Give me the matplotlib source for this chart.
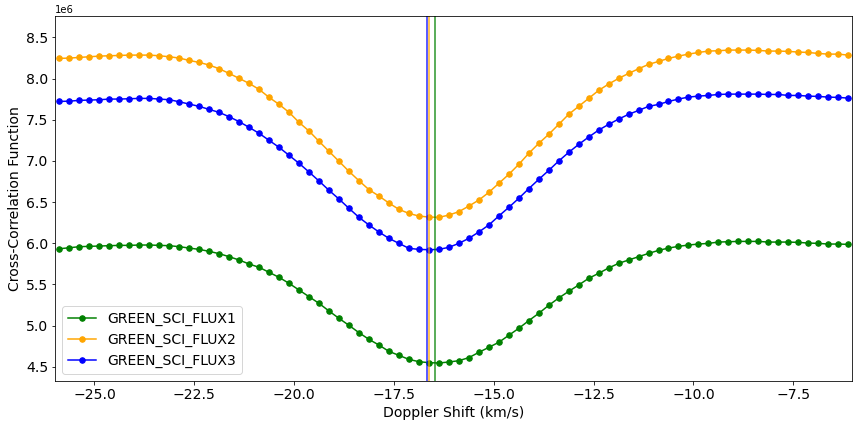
import numpy as np
from matplotlib import pyplot as plt

# Doppler shift grid (km/s), 0.25 km/s steps
velocity = np.linspace(-25.875, -6.125, 80)

# CCF values in units of 1e6
flux1 = [5.933, 5.945, 5.958, 5.962, 5.966, 5.970, 5.974, 5.974, 5.978, 5.978,
         5.974, 5.970, 5.958, 5.941, 5.925, 5.901, 5.873, 5.836, 5.796, 5.747,
         5.707, 5.646, 5.585, 5.512, 5.431, 5.350, 5.269, 5.176, 5.087, 5.002,
         4.913, 4.832, 4.763, 4.686, 4.638, 4.589, 4.561, 4.549, 4.545, 4.557,
         4.573, 4.610, 4.674, 4.735, 4.796, 4.881, 4.966, 5.059, 5.148, 5.245,
         5.334, 5.415, 5.492, 5.573, 5.634, 5.699, 5.755, 5.796, 5.836, 5.876,
         5.913, 5.941, 5.962, 5.978, 5.990, 5.998, 6.014, 6.018, 6.022, 6.022,
         6.022, 6.014, 6.014, 6.014, 6.010, 6.002, 5.998, 5.990, 5.990, 5.986]

flux2 = [8.245, 8.249, 8.257, 8.265, 8.273, 8.277, 8.281, 8.285, 8.285, 8.285,
         8.277, 8.265, 8.249, 8.220, 8.196, 8.164, 8.119, 8.062, 8.002, 7.941,
         7.868, 7.771, 7.686, 7.589, 7.467, 7.362, 7.237, 7.115, 6.994, 6.872,
         6.759, 6.650, 6.573, 6.488, 6.411, 6.362, 6.330, 6.318, 6.314, 6.342,
         6.383, 6.451, 6.524, 6.617, 6.727, 6.836, 6.957, 7.091, 7.212, 7.322,
         7.443, 7.565, 7.662, 7.759, 7.856, 7.933, 8.002, 8.062, 8.119, 8.172,
         8.208, 8.245, 8.273, 8.297, 8.317, 8.334, 8.338, 8.346, 8.346, 8.346,
         8.342, 8.334, 8.334, 8.330, 8.322, 8.317, 8.305, 8.297, 8.297, 8.285]

flux3 = [7.722, 7.726, 7.735, 7.739, 7.743, 7.751, 7.751, 7.755, 7.759, 7.759,
         7.751, 7.743, 7.718, 7.690, 7.662, 7.625, 7.589, 7.536, 7.476, 7.407,
         7.334, 7.249, 7.164, 7.067, 6.970, 6.864, 6.755, 6.642, 6.536, 6.423,
         6.314, 6.221, 6.136, 6.059, 5.998, 5.938, 5.925, 5.921, 5.925, 5.950,
         5.998, 6.059, 6.136, 6.221, 6.330, 6.435, 6.545, 6.662, 6.775, 6.884,
         6.998, 7.103, 7.200, 7.289, 7.374, 7.443, 7.508, 7.565, 7.613, 7.662,
         7.686, 7.722, 7.751, 7.775, 7.787, 7.795, 7.807, 7.811, 7.811, 7.811,
         7.811, 7.807, 7.807, 7.795, 7.795, 7.787, 7.783, 7.775, 7.771, 7.763]

labels = ['GREEN_SCI_FLUX1', 'GREEN_SCI_FLUX2', 'GREEN_SCI_FLUX3']
colors = ['green', 'orange', 'blue']

# fitted RV of each CCF (km/s)
rv_fit = [-16.48, -16.62, -16.66]

fig = plt.figure(figsize=(858 / 72, 426 / 72), dpi=72)
ax = fig.add_axes([55.3 / 858, 1 - 380.7 / 426, (852 - 55.3) / 858, (380.7 - 16) / 426])

for ys, lab, c in zip([flux1, flux2, flux3], labels, colors):
    ax.plot(velocity, np.array(ys) * 1e6, 'o-', color=c, label=lab, markersize=5.5, linewidth=1.5)

for v, c in zip(rv_fit, colors):
    ax.axvline(v, color=c, alpha=0.75, linewidth=1.7)

ax.set_xlim(-25.98, -6.03)
ax.set_ylim(4.33e6, 8.76e6)

ax.set_xlabel('Doppler Shift (km/s)', fontsize=14)
ax.set_ylabel('Cross-Correlation Function', fontsize=14)
ax.tick_params(labelsize=14)
ax.yaxis.get_offset_text().set_fontsize(10)
ax.legend(loc='lower left', fontsize=14)

fig.savefig('out.png', dpi=72)
